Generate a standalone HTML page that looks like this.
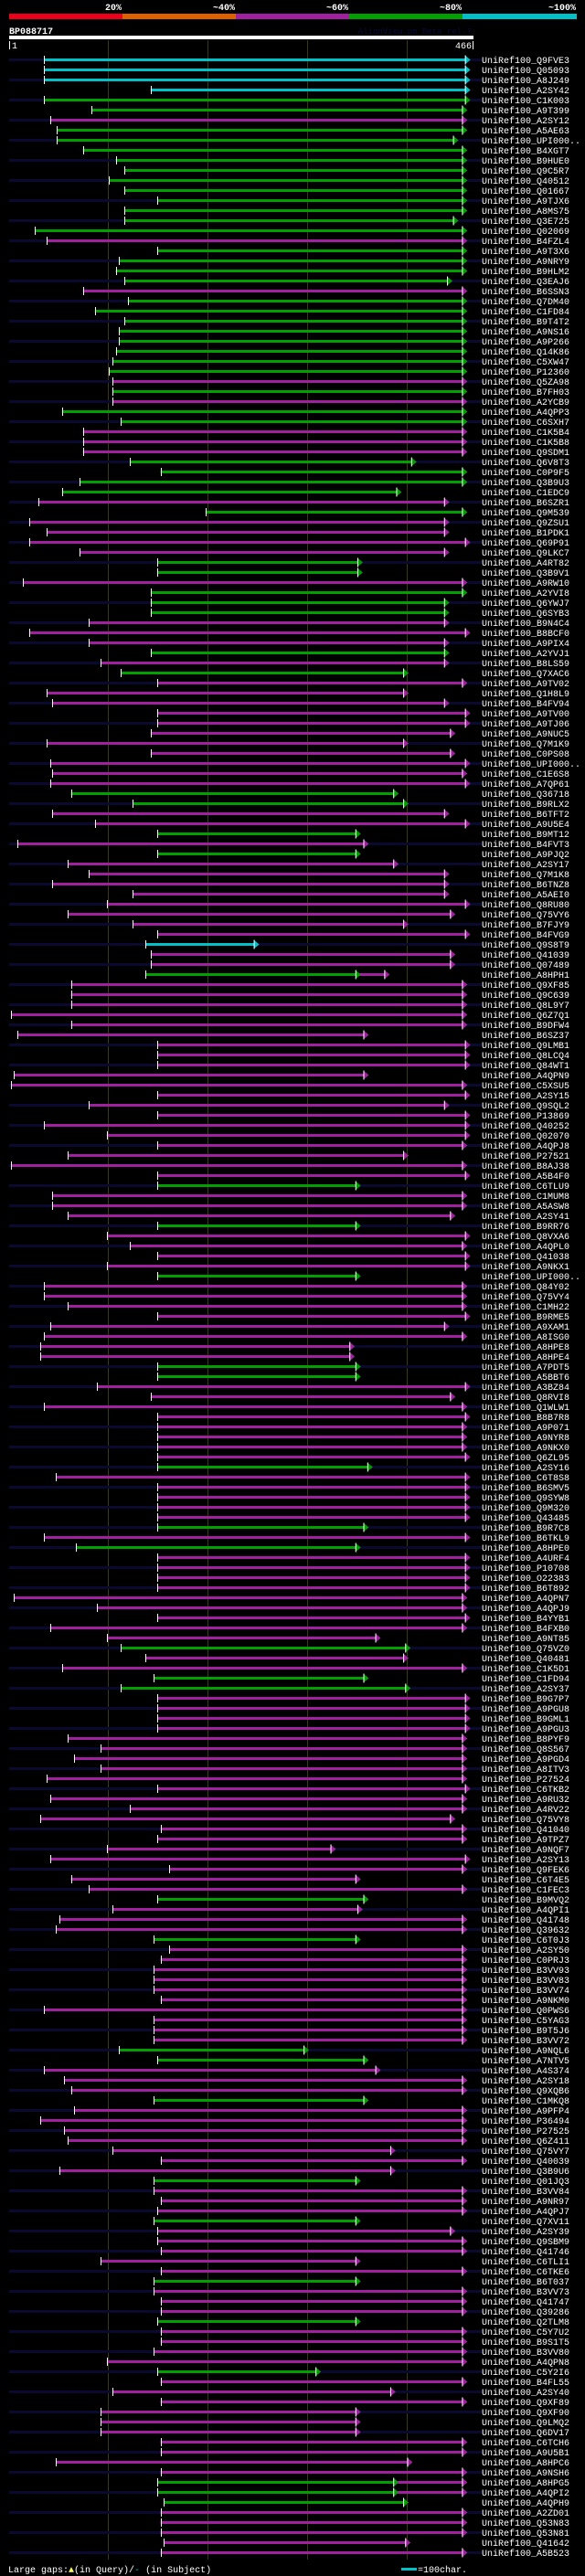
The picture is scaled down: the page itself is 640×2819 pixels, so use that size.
<!DOCTYPE html>
<html><head><meta charset="utf-8">
<style>
html,body{margin:0;padding:0;background:#000;}
body{width:640px;height:2819px;overflow:hidden;position:relative;font-family:"Liberation Mono",monospace;}
svg{position:absolute;left:0;top:0;}
</style></head>
<body>
<svg id="chart" width="640" height="2819" xmlns="http://www.w3.org/2000/svg">
  <rect x="0" y="0" width="640" height="2819" fill="#000"/>
  <g>
    <rect x="10" y="15" width="124" height="6" fill="#ee0018"/>
    <rect x="134" y="15" width="124" height="6" fill="#e06000"/>
    <rect x="258" y="15" width="124" height="6" fill="#a020a0"/>
    <rect x="382" y="15" width="124" height="6" fill="#00a000"/>
    <rect x="506" y="15" width="125" height="6" fill="#00c0c8"/>
    <g font-family="Liberation Mono, monospace" font-size="10" font-weight="bold" fill="#fff">
      <text x="133" y="11" text-anchor="end">20%</text>
      <text x="257" y="11" text-anchor="end">~40%</text>
      <text x="381" y="11" text-anchor="end">~60%</text>
      <text x="505" y="11" text-anchor="end">~80%</text>
      <text x="630" y="11" text-anchor="end">~100%</text>
    </g>
  </g>
  <text x="10" y="37" font-family="Liberation Mono, monospace" font-size="10" font-weight="bold" fill="#fff">BP088717</text>
  <text x="516" y="37" text-anchor="end" font-family="Liberation Mono, monospace" font-size="9" fill="#0a0a3a">AlignView.pm Beta rel.7</text>
  <rect x="10" y="39" width="508" height="4" fill="#fff"/>
  <rect x="10" y="45" width="1" height="9" fill="#fff"/>
  <text x="13" y="53" font-family="Liberation Mono, monospace" font-size="10" fill="#fff">1</text>
  <text x="516" y="53" text-anchor="end" font-family="Liberation Mono, monospace" font-size="10" fill="#fff">466</text>
  <rect x="517" y="45" width="1" height="9" fill="#fff"/>
  <g id="grid"></g>
  <g id="rows"></g>
  <g font-family="Liberation Mono, monospace" font-size="10" fill="#fff">
    <text x="9" y="2815">Large gaps:<tspan fill="#ffff60">▲</tspan>(in Query)/<tspan fill="#00c0c8">-</tspan> (in Subject)</text>
    <rect x="439" y="2810" width="17" height="3" fill="#00c0c8"/>
    <text x="457" y="2815">=100char.</text>
  </g>
</svg>
<script>
const names = ["Q9FVE3","Q05093","A8J249","A2SY42","C1K003","A9T399","A2SY12","A5AE63","UPI000..","B4XGT7","B9HUE0","Q9C5R7","Q40512","Q01667","A9TJX6","A8MS75","Q3E725","Q02069","B4FZL4","A9T3X6","A9NRY9","B9HLM2","Q3EAJ6","B6SSN3","Q7DM40","C1FD84","B9T4T2",
"A9NS16","A9P266","Q14K86","C5XW47","P12360","Q5ZA98","B7FH03","A2YCB9","A4QPP3","C6SXH7","C1K5B4","C1K5B8","Q9SDM1","Q6V8T3","C0P9F5","Q3B9U3","C1EDC9","B6SZR1","Q9M539","Q9ZSU1","B1PDK1","Q69P91","Q9LKC7","A4RT82","Q3B9V1","A9RW10","A2YVI8","Q6YWJ7",
"Q6SYB3","B9N4C4","B8BCF0","A9PIX4","A2YVJ1","B8LS59","Q7XAC6","A9TV02","Q1H8L9","B4FV94","A9TV00","A9TJ06","A9NUC5","Q7M1K9","C0PS08","UPI000..","C1E6S8","A7QP61","Q36718","B9RLX2","B6TFT2","A9U5E4","B9MT12","B4FVT3","A9PJQ2","A2SY17","Q7M1K8",
"B6TNZ8","A5AEI0","Q8RU80","Q75VY6","B7FJY9","B4FVG9","Q9S8T9","Q41039","Q07489","A8HPH1","Q9XF85","Q9C639","Q8L9Y7","Q6Z7Q1","B9DFW4","B6SZ37","Q9LMB1","Q8LCQ4","Q84WT1","A4QPN9","C5XSU5","A2SY15","Q9SQL2","P13869","Q40252","Q02070","A4QPJ8",
"P27521","B8AJ38","A5B4F0","C6TLU9","C1MUM8","A5ASW8","A2SY41","B9RR76","Q8VXA6","A4QPL0","Q41038","A9NKX1","UPI000..","Q84Y02","Q75VY4","C1MH22","B9RME5","A9XAM1","A8ISG0","A8HPE8","A8HPE4","A7PDT5","A5BBT6","A3BZ84","Q8RVI8","Q1WLW1","B8B7R8",
"A9P071","A9NYR8","A9NKX0","Q6ZL95","A2SY16","C6T8S8","B6SMV5","Q9SYW8","Q9M320","Q43485","B9R7C8","B6TKL9","A8HPE0","A4URF4","P10708","O22383","B6T892","A4QPN7","A4QPJ9","B4YYB1","B4FXB0","A9NT85","Q75VZ0","Q40481","C1K5D1","C1FD94","A2SY37","B9G7P7",
"A9PGU8","B9GML1","A9PGU3","B8PYF9","Q8S567","A9PGD4","A8ITV3","P27524","C6TKB2","A9RU32","A4RV22","Q75VY8","Q41040","A9TPZ7","A9NQF7","A2SY13","Q9FEK6","C6T4E5","C1FEC3","B9MVQ2","A4QPI1","Q41748","Q39632","C6T0J3","A2SY50","C0PRJ3","B3VV93",
"B3VV83","B3VV74","A9NKM0","Q0PWS6","C5YAG3","B9T5J6","B3VV72","A9NQL6","A7NTV5","A4S374","A2SY18","Q9XQB6","C1MKQ8","A9PFP4","P36494","P27525","Q6Z411","Q75VY7","Q40039","Q3B9U6","Q01JQ3","B3VV84","A9NR97","A4QPJ7","Q7XV11","A2SY39","Q9SBM9",
"Q41746","C6TLI1","C6TKE6","B6T037","B3VV73","Q41747","Q39286","Q2TLM8","C5Y7U2","B9S1T5","B3VV80","A4QPN8","C5Y2I6","B4FL55","A2SY40","Q9XF89","Q9XF90","Q9LMQ2","Q6DV17","C6TCH6","A9U5B1","A8HPC6","A9NSH6","A8HPG5","A4QPI2","A4QPH9","A2ZD01","Q53N83","Q53N81","Q41642","A5B523"];
const colors = [
  "cccc"+"gg"+"m"+"ggggggggggg"+"m"+"gggg"+"m"+"ggg",
  "ggggg"+"m"+"g"+"m"+"gg"+"mmm"+"gggg"+"m"+"g"+"mmmm"+"gg"+"m"+"gg",
  "g"+"mmm"+"g"+"m"+"g"+"mmmmmmmmmmm"+"gg"+"mm"+"g"+"m"+"g"+"mm",
  "mmmmmm"+"c"+"mm"+"g"+"mmmmmmmmmmmmmmmmm",
  "mmm"+"g"+"mmm"+"g"+"mmmm"+"g"+"mmmmmmmm"+"gg"+"mmmm",
  "mmmm"+"g"+"mmmmm"+"g"+"m"+"g"+"mmmmmmmmm"+"g"+"mm"+"gg"+"m",
  "mmmmmmmmmmmmmmmmmmm"+"g"+"mmm"+"g"+"mmm",
  "mmmmmmm"+"gg"+"mmm"+"g"+"mmmmmmm"+"g"+"mmm"+"g"+"mm",
  "mmm"+"g"+"mmm"+"g"+"mmmm"+"g"+"mmmmmmmmmm"+"ggg"+"mmmmm"
].join("");
const starts = [36,36,36,143,36,84,42,49,49,75,108,117,101,117,150,117,117,27,39,150,111,108,117,75,120,87,117,
111,111,108,105,101,105,105,105,54,113,75,75,75,122,153,72,54,30,198,21,39,21,72,150,150,15,143,143,
143,81,21,81,143,93,113,150,39,44,150,150,143,39,143,42,44,42,63,125,44,87,150,9,150,60,81,
44,125,99,60,125,150,138,143,143,138,63,63,63,3,63,9,150,150,150,6,3,150,81,150,36,99,150,
60,3,150,150,44,44,60,150,99,122,150,99,150,36,36,60,150,42,36,32,32,150,150,89,143,36,150,
150,150,150,150,150,48,150,150,150,150,150,36,68,150,150,150,150,6,89,150,42,99,113,138,54,146,113,150,
150,150,150,60,93,66,93,39,150,42,122,32,153,150,99,42,162,63,81,150,105,51,48,146,162,153,146,
146,146,153,36,146,146,146,111,150,36,56,63,146,66,32,56,60,105,153,51,146,146,153,150,146,150,150,
153,93,153,146,146,153,153,150,153,153,146,99,150,153,105,153,93,93,93,153,153,48,153,150,150,156,153,153,153,156,153];
const ends = [464,464,464,464,464,461,461,461,452,461,461,461,461,461,461,461,452,461,461,461,461,461,446,461,461,461,461,
461,461,461,461,461,461,461,461,461,461,461,461,461,410,461,461,395,443,461,443,443,464,443,356,356,461,461,443,
443,443,464,443,443,443,402,461,402,443,464,464,449,402,449,464,461,464,392,402,443,464,354,362,354,392,443,
443,443,464,449,402,464,252,449,449,354,461,461,461,461,461,362,464,464,464,362,461,464,443,464,464,464,461,
402,461,464,354,461,461,449,354,464,461,464,464,354,461,461,461,464,443,461,348,348,354,354,464,449,461,464,
461,461,461,464,366,464,464,464,464,464,362,464,354,464,464,464,464,461,461,464,461,374,404,402,461,362,404,464,
464,464,464,461,461,461,461,461,464,461,461,449,461,461,329,464,461,354,461,362,356,461,461,354,461,461,461,
461,461,461,461,461,461,461,302,362,374,461,461,362,461,461,461,461,389,461,389,354,461,461,461,354,449,461,
461,354,461,354,461,461,461,354,461,461,461,461,314,461,389,461,354,354,354,461,461,406,461,392,392,402,461,461,461,404,461];
// extensions: [row number (1-based), extension end position] drawn in magenta after the main hit
const extRows = [92, 242, 243];
const extEnds = [383, 461, 461];
const ticks = [100, 200, 300, 400];

const NS = "http://www.w3.org/2000/svg";
const X0 = 10, PX = 1.09, Y0 = 65, DY = 11;
function xs(p){ return X0 + (p - 1) * PX; }
function ys(i){ return Y0 + i * DY; }
const COL = {c:"#00c0c8", g:"#00a000", m:"#a020a0"};
function mk(tag, attrs, parent){ const e = document.createElementNS(NS, tag); for (const k in attrs) e.setAttribute(k, attrs[k]); parent.appendChild(e); return e; }

const grid = document.getElementById("grid");


const rowsG = document.getElementById("rows");



for (let i = 0; i < names.length; i += 2) {
  const s = mk("rect", {x: 10, y: ys(i) - 1, width: 517, height: 3, fill: "#0a0a30"}, rowsG);
  
  
}
ticks.forEach(t => {
  const l = mk("rect", {x: Math.round(xs(t)), y: 44, width: 1, height: ys(names.length - 1) + 8 - 44, fill: "#3a3a0c"}, grid);
  
  
});

function arrow(g, x, y, color){
  const t = mk("polygon", {points: `${x-6},${y-4.5} ${x},${y+0.5} ${x-6},${y+5.5}`, fill: color}, g);
  
  
  const w = mk("rect", {x: x-6, y: y-4.5, width: 1, height: 10, fill: "#fff"}, g);
  
  
}

names.forEach((n, i) => {
  const y = ys(i);
  const g = mk("g", {}, rowsG);
  
  
  const c = COL[colors[i]] || COL.m;
  const x1 = xs(starts[i]), x2 = xs(ends[i]);
  const ei = extRows.indexOf(i + 1);
  if (ei >= 0) {
    const xe = xs(extEnds[ei]);
    const ex = mk("rect", {x: x2 - 5, y: y - 1, width: xe - x2, height: 3, fill: COL.m}, g);
    
    
    arrow(g, xe, y, COL.m);
  }
  const b = mk("rect", {x: x1, y: y - 1, width: Math.max(1, x2 - 5 - x1), height: 3, fill: c}, g);
  
  
  const tk = mk("rect", {x: Math.round(x1), y: y - 4, width: 1, height: 9, fill: "#fff"}, g);
  
  
  arrow(g, x2, y, c);
  const tx = mk("text", {x: 527, y: y + 4, fill: "#fff", "font-family": "Liberation Mono, monospace", "font-size": "10"}, g);
  tx.textContent = "UniRef100_" + n;
  
  
});
</script>
</body></html>
